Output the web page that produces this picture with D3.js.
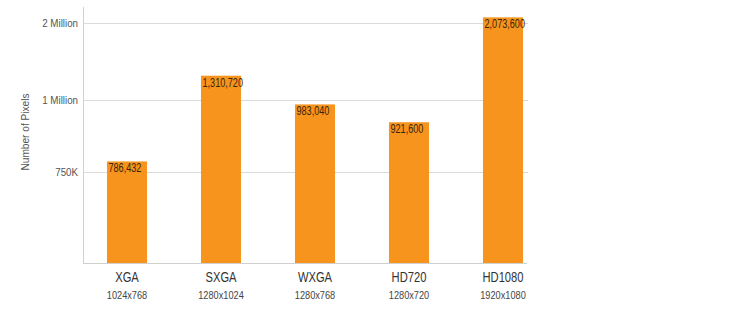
<!DOCTYPE html>
<html><head><meta charset="utf-8">
<script src="https://cdn.jsdelivr.net/npm/d3@7"></script>
<style>
body{margin:0;background:#fff;}
text{font-family:"Liberation Sans",Arial,sans-serif;}
</style></head>
<body><svg id="c" width="741" height="324"></svg>
<script>
const categories = ["XGA","SXGA","WXGA","HD720","HD1080"];
const resolutions = ["1024x768","1280x1024","1280x768","1280x720","1920x1080"];
const pixels = [786432, 1310720, 983040, 921600, 2073600];
const tickValues = [750000, 1000000, 2000000];
const tickLabels = ["750K","1 Million","2 Million"];

const svg = d3.select("#c");
const x = d3.scaleBand().domain(categories).range([80,550]).paddingInner(0.574).paddingOuter(0.287);
const y = d3.scaleLinear().domain([0,750000,1000000,2000000]).range([263,172,99.5,23]);
const SX = 0.76; // condensed look

// gridlines
svg.selectAll("line.grid").data(tickValues).enter().append("line")
  .attr("x1",83).attr("x2",528).attr("y1",d=>Math.round(y(d))+0.5).attr("y2",d=>Math.round(y(d))+0.5)
  .attr("stroke","#dcdcdc").attr("stroke-width",1);
// axis lines
svg.append("line").attr("x1",83.5).attr("x2",83.5).attr("y1",7).attr("y2",263).attr("stroke","#d0d0d0");
svg.append("line").attr("x1",83).attr("x2",527).attr("y1",263.5).attr("y2",263.5).attr("stroke","#d0d0d0");

// tick labels
svg.selectAll("text.tick").data(tickValues).enter().append("text")
  .attr("transform",d=>`translate(78,${y(d)+4}) scale(0.85,1)`).attr("text-anchor","end")
  .attr("font-size",11.5).attr("fill","#555").text((d,i)=>tickLabels[i]);

// y title
svg.append("text").attr("transform","translate(29,132) rotate(-90) scale(0.88,1)")
  .attr("text-anchor","middle").attr("font-size",11.5).attr("fill","#555").text("Number of Pixels");

// bars
svg.selectAll("rect.bar").data(pixels).enter().append("rect")
  .attr("x",(d,i)=>x(categories[i])).attr("width",x.bandwidth())
  .attr("y",d=>y(d)).attr("height",d=>y(0)-y(d)).attr("fill","#F7941E");
svg.selectAll("text.val").data(pixels).enter().append("text")
  .attr("transform",(d,i)=>`translate(${x(categories[i])+1.5},${y(d)+11}) scale(${SX},1)`)
  .attr("font-size",12).attr("fill","#3a2608").text(d=>d3.format(",")(d));

// category labels
svg.selectAll("text.cat").data(categories).enter().append("text")
  .attr("transform",d=>`translate(${x(d)+x.bandwidth()/2},282) scale(0.8,1)`).attr("text-anchor","middle")
  .attr("font-size",14).attr("fill","#333").text(d=>d);
svg.selectAll("text.res").data(resolutions).enter().append("text")
  .attr("transform",(d,i)=>`translate(${x(categories[i])+x.bandwidth()/2},299) scale(0.8,1)`).attr("text-anchor","middle")
  .attr("font-size",11.5).attr("fill","#444").text(d=>d);
</script></body></html>
